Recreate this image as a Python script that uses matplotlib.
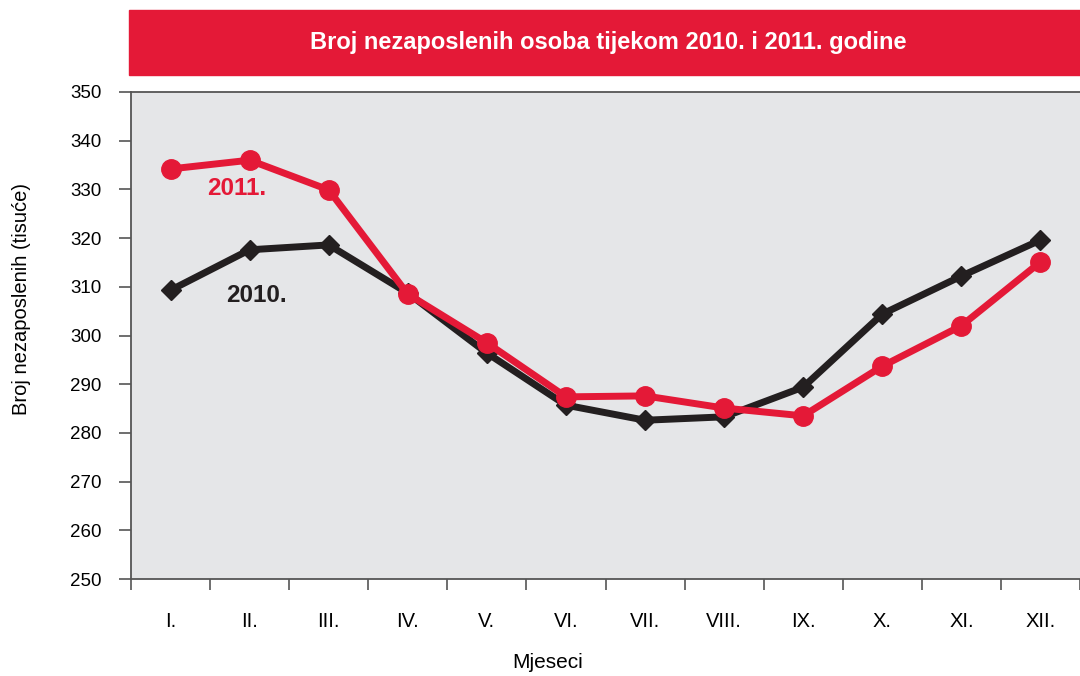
import matplotlib.pyplot as plt
from matplotlib.patches import Rectangle
import numpy as np

plt.rcParams['font.family'] = ['Liberation Sans', 'DejaVu Sans']

months = ['I.', 'II.', 'III.', 'IV.', 'V.', 'VI.', 'VII.', 'VIII.', 'IX.', 'X.', 'XI.', 'XII.']
y2010 = [309.3, 317.6, 318.6, 308.7, 296.4, 285.7, 282.6, 283.3, 289.4, 304.4, 312.2, 319.6]
y2011 = [334.2, 336.0, 329.9, 308.5, 298.5, 287.4, 287.6, 285.1, 283.5, 293.7, 302.0, 315.1]
yticks = [250, 260, 270, 280, 290, 300, 310, 320, 330, 340, 350]

red = '#e41937'
black = '#231f20'

fig = plt.figure(figsize=(10.8, 6.76), dpi=100)
ax = fig.add_axes([131 / 1080, 97 / 676, 949 / 1080, 487 / 676])
ax.set_facecolor('#e5e6e8')

x = np.arange(len(months))
ax.plot(x, y2010, color=black, lw=5, marker='D', ms=10, zorder=3)
ax.plot(x, y2011, color=red, lw=5, marker='o', ms=14, zorder=4)

ax.set_xlim(-0.5, len(months) - 0.5)
ax.set_ylim(250, 350)
ax.set_yticks(yticks)
ax.set_yticklabels([str(v) for v in yticks], fontsize=13.5)

# ticks between categories, labels centred
ax.set_xticks(np.arange(-0.5, len(months), 1.0))
ax.set_xticklabels([])
ax.set_xticks(x, minor=True)
ax.set_xticklabels(months, minor=True, fontsize=14.5)
ax.tick_params(axis='x', which='major', length=8, color='#555555', width=1.2)
ax.tick_params(axis='x', which='minor', length=0, pad=24)
ax.tick_params(axis='y', length=9, color='#555555', width=1.2, pad=12)

for s in ['left', 'bottom', 'top']:
    ax.spines[s].set_color('#555555')
    ax.spines[s].set_linewidth(1.3)
ax.spines['right'].set_visible(False)

ax.text(0.84, 330.1, '2011.', color=red, fontsize=17.5, fontweight='bold', ha='center', va='center')
ax.text(1.09, 308.3, '2010.', color=black, fontsize=17.5, fontweight='bold', ha='center', va='center')

fig.text(22 / 1080, 1 - 299 / 676, 'Broj nezaposlenih (tisuće)', fontsize=14.5,
         rotation=90, ha='center', va='center')
fig.text(548 / 1080, 1 - 663 / 676, 'Mjeseci', fontsize=15, ha='center', va='center')

# title banner
fig.patches.append(Rectangle((129 / 1080, 1 - 75 / 676), 951 / 1080, 65 / 676,
                             transform=fig.transFigure, color='#e41937', zorder=0))
fig.text(608 / 1080, 1 - 43 / 676, 'Broj nezaposlenih osoba tijekom 2010. i 2011. godine',
         color='white', fontsize=17, fontweight='bold', ha='center', va='center')

fig.savefig('out.png', dpi=100)
